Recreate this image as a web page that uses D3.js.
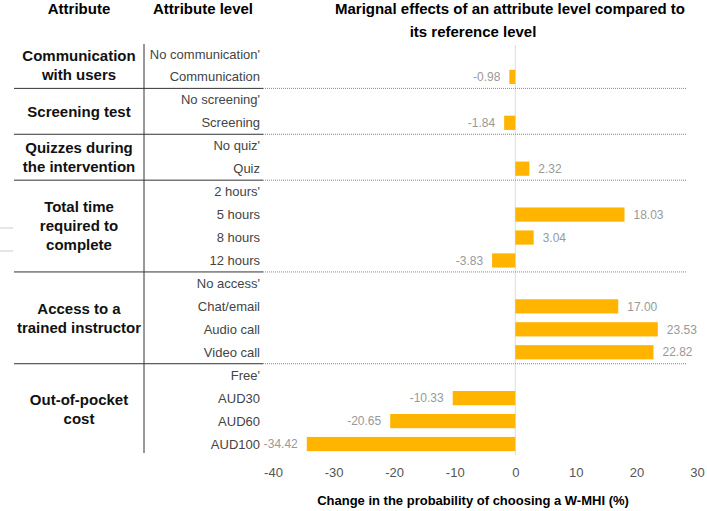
<!DOCTYPE html>
<html><head><meta charset="utf-8">
<script src="https://cdn.jsdelivr.net/npm/d3@7/dist/d3.min.js"></script>
<style>body{margin:0;background:#fff;} text{font-family:"Liberation Sans",Arial,sans-serif;}</style>
</head><body>
<svg id="c" width="707" height="511"></svg>
<script>
const levels = ["No communication'","Communication","No screening'","Screening","No quiz'","Quiz","2 hours'","5 hours","8 hours","12 hours","No access'","Chat/email","Audio call","Video call","Free'","AUD30","AUD60","AUD100"];
const values = [null,-0.98,null,-1.84,null,2.32,null,18.03,3.04,-3.83,null,17.00,23.53,22.82,null,-10.33,-20.65,-34.42];
const groups = [
  {lines:["Communication","with users"], first:0, last:1},
  {lines:["Screening test"], first:2, last:3},
  {lines:["Quizzes during","the intervention"], first:4, last:5},
  {lines:["Total time","required to","complete"], first:6, last:9},
  {lines:["Access to a","trained instructor"], first:10, last:13},
  {lines:["Out-of-pocket","cost"], first:14, last:17}
];
const xTicks = [-40,-30,-20,-10,0,10,20,30];

const svg = d3.select("#c");
const x = d3.scaleLinear().domain([-40,30]).range([273,697]);
const y = d3.scaleBand().domain(levels).range([42.5,455.5]).paddingInner(0.38).paddingOuter(0.19);
const step = y.step();

// headers
svg.append("text").attr("x",79).attr("y",14).attr("text-anchor","middle").attr("font-size",15).attr("font-weight","bold").text("Attribute");
svg.append("text").attr("x",203).attr("y",14).attr("text-anchor","middle").attr("font-size",15).attr("font-weight","bold").text("Attribute level");
svg.append("text").attr("x",510).attr("y",14).attr("text-anchor","middle").attr("font-size",15).attr("font-weight","bold").text("Marignal effects of an attribute level compared to");
svg.append("text").attr("x",473).attr("y",37).attr("text-anchor","middle").attr("font-size",15).attr("font-weight","bold").text("its reference level");

// zero line
svg.append("line").attr("x1",x(0)).attr("x2",x(0)).attr("y1",45).attr("y2",455).attr("stroke","#dddddd").attr("stroke-width",1);

// bars
const rows = levels.map((l,i)=>({l, v: values[i]})).filter(d=>d.v!==null);
svg.selectAll("rect.bar").data(rows).enter().append("rect").attr("class","bar")
  .attr("x",d=>x(Math.min(0,d.v))).attr("width",d=>Math.abs(x(d.v)-x(0)))
  .attr("y",d=>y(d.l)).attr("height",y.bandwidth()).attr("fill","#FFB400");
svg.selectAll("text.val").data(rows).enter().append("text").attr("class","val")
  .attr("x",d=>d.v<0? x(d.v)-9 : x(d.v)+9)
  .attr("y",d=>y(d.l)+y.bandwidth()/2).attr("dy","0.35em")
  .attr("text-anchor",d=>d.v<0?"end":"start")
  .attr("font-size",12).attr("fill","#999999")
  .text(d=>d.v.toFixed(2));

// level labels
svg.selectAll("text.lvl").data(levels).enter().append("text").attr("class","lvl")
  .attr("x",260).attr("y",d=>y(d)+y.bandwidth()/2).attr("dy","0.35em")
  .attr("text-anchor","end").attr("font-size",13).attr("fill","#444444").text(d=>d);

// group labels & separators
groups.forEach((g,gi)=>{
  const top = y(levels[g.first]) - y.paddingInner()*step/2;
  const bot = y(levels[g.last]) + y.bandwidth() + y.paddingInner()*step/2;
  const mid = (top+bot)/2;
  const lh = 19;
  g.lines.forEach((t,i)=>{
    svg.append("text").attr("x",79).attr("y",mid+(i-(g.lines.length-1)/2)*lh).attr("dy","0.35em")
      .attr("text-anchor","middle").attr("font-size",15).attr("font-weight","bold").attr("fill","#111").text(t);
  });
  if(gi<groups.length-1){
    svg.append("line").attr("x1",14).attr("x2",263).attr("y1",bot).attr("y2",bot).attr("stroke","#333").attr("stroke-width",1);
    svg.append("line").attr("x1",263).attr("x2",686).attr("y1",bot).attr("y2",bot).attr("stroke","#888").attr("stroke-width",1).attr("stroke-dasharray","1,1");
  }
});

// vertical table line
svg.append("line").attr("x1",144).attr("x2",144).attr("y1",44).attr("y2",453).attr("stroke","#333").attr("stroke-width",1);

// small stray marks
[228,251].forEach(yy=>svg.append("line").attr("x1",0).attr("x2",13).attr("y1",yy).attr("y2",yy).attr("stroke","#ccc"));

// x axis
const ax = svg.append("g").attr("transform","translate(0,463)").call(d3.axisBottom(x).tickValues(xTicks).tickFormat(d=>String(d)).tickSize(0).tickPadding(5));
ax.select(".domain").remove();
ax.selectAll("text").attr("font-size",13).attr("fill","#555").attr("font-family","Liberation Sans, Arial, sans-serif");

svg.append("text").attr("x",473).attr("y",505).attr("text-anchor","middle").attr("font-size",13).attr("font-weight","bold").text("Change in the probability of choosing a W-MHI (%)");
</script>
</body></html>
